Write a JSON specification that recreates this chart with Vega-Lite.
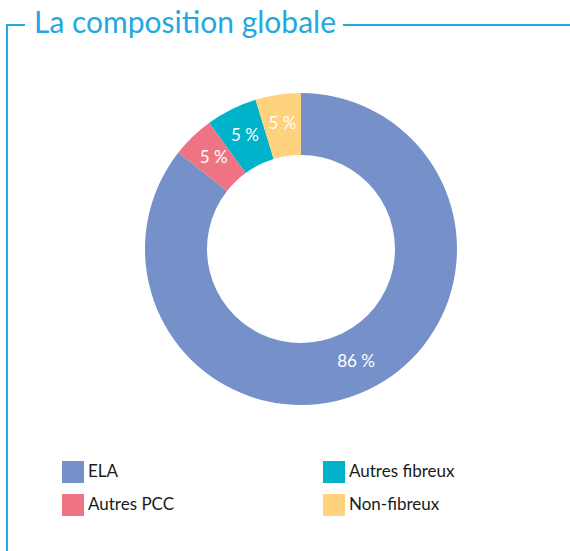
{
  "$schema": "https://vega.github.io/schema/vega-lite/v6.json",
  "autosize": {"type": "none"},
  "width": 563,
  "height": 526,
  "padding": {"left": 7, "top": 25, "right": 0, "bottom": 0},
  "background": "white",
  "view": {
    "stroke": "#22a8e0",
    "strokeWidth": 2,
    "strokeDash": [18, 318, 227, 1089, 560]
  },
  "title": {
    "text": "La composition globale",
    "orient": "top",
    "anchor": "start",
    "frame": "group",
    "offset": 0,
    "baseline": "alphabetic",
    "dx": 27,
    "dy": 38,
    "font": "Lato",
    "fontSize": 30,
    "fontWeight": "normal",
    "color": "#22a8e0"
  },
  "data": {
    "values": [
      {"categorie": "ELA", "part": 85.6, "etiquette": "86 %", "rang": 1},
      {"categorie": "Autres PCC", "part": 4.4, "etiquette": "5 %", "rang": 2},
      {"categorie": "Autres fibreux", "part": 5.3, "etiquette": "5 %", "rang": 3},
      {"categorie": "Non-fibreux", "part": 4.7, "etiquette": "5 %", "rang": 4}
    ]
  },
  "encoding": {
    "theta": {"field": "part", "type": "quantitative", "stack": true},
    "order": {"field": "rang", "type": "quantitative"}
  },
  "layer": [
    {
      "mark": {
        "type": "arc",
        "innerRadius": 94,
        "outerRadius": 156,
        "x": {"expr": "width / 2 + 12.5"},
        "y": {"expr": "height / 2 - 39"}
      },
      "encoding": {
        "color": {
          "field": "categorie",
          "type": "nominal",
          "scale": {
            "domain": ["ELA", "Autres fibreux", "Autres PCC", "Non-fibreux"],
            "range": ["#7690ca", "#00b3ca", "#ee7484", "#ffd27d"]
          },
          "legend": {
            "title": null,
            "orient": "none",
            "legendX": 55,
            "legendY": 436,
            "columns": 2,
            "direction": "horizontal",
            "columnPadding": 148,
            "rowPadding": 11,
            "padding": 0,
            "symbolType": "square",
            "symbolSize": 484,
            "symbolStrokeWidth": 0,
            "symbolOpacity": 1,
            "labelOffset": 4,
            "labelFont": "Lato",
            "labelFontSize": 17,
            "labelColor": "#1a1a1a",
            "labelLimit": 300
          }
        }
      }
    },
    {
      "mark": {
        "type": "text",
        "radius": 126,
        "font": "Lato",
        "fontSize": 17,
        "color": "white",
        "align": "center",
        "baseline": "middle",
        "x": {"expr": "width / 2 + 12.5"},
        "y": {"expr": "height / 2 - 39"}
      },
      "encoding": {
        "text": {"field": "etiquette", "type": "nominal"}
      }
    }
  ]
}
